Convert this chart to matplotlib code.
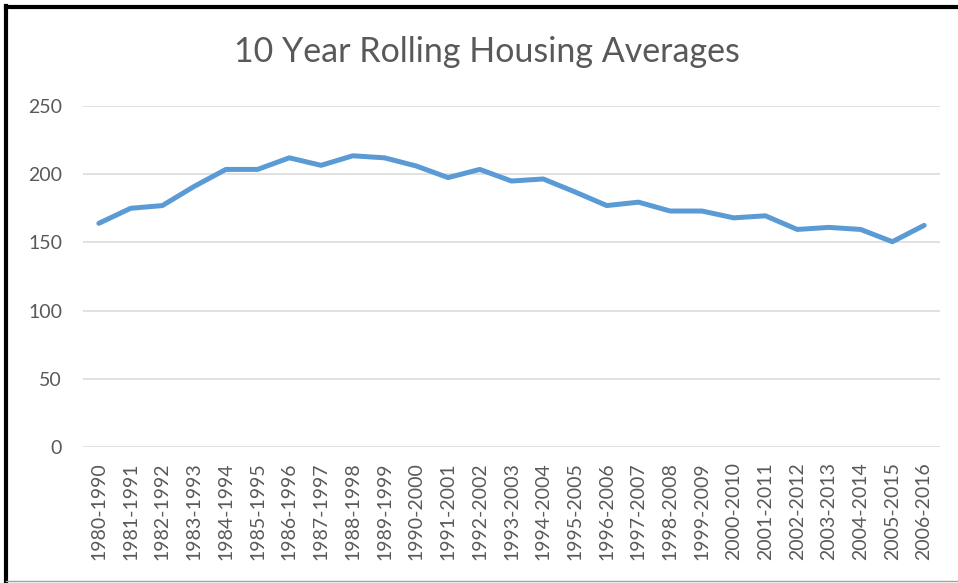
import matplotlib
matplotlib.use('Agg')
import matplotlib.pyplot as plt
from matplotlib.lines import Line2D

plt.rcParams['font.family'] = ['Lato', 'DejaVu Sans']

periods = ['%d-%d' % (y, y + 10) for y in range(1980, 2007)]
averages = [164, 175, 177, 191, 203.5, 203.5, 212, 206.5, 213.5, 212, 206, 197.5,
            203.5, 195, 196.5, 187, 177, 179.5, 173, 173, 168, 169.5, 159.5, 161,
            159.5, 150.5, 162.5]

fig = plt.figure(figsize=(9.58, 5.83), dpi=100)
fig.patch.set_facecolor('white')
ax = fig.add_axes([83 / 958, 1 - 447 / 583, (940 - 83) / 958, (447 - 106) / 583])

x = range(len(periods))
ax.plot(x, averages, color='#5B9BD5', linewidth=3.6, solid_capstyle='round',
        solid_joinstyle='round', zorder=3)

ax.set_xlim(-0.5, len(periods) - 0.5)
ax.set_ylim(0, 250)
ax.set_yticks([0, 50, 100, 150, 200, 250])
ax.set_xticks(list(x))
ax.set_xticklabels(periods, rotation=90)
ax.tick_params(axis='both', length=0, labelsize=14, labelcolor='#595959')
ax.tick_params(axis='y', pad=15)
ax.tick_params(axis='x', pad=11)
ax.grid(axis='y', color='#D9D9D9', linewidth=1.1)
ax.set_axisbelow(True)
for s in ax.spines.values():
    s.set_visible(False)

fig.text(487 / 958, 1 - 52 / 583, '10 Year Rolling Housing Averages', ha='center',
         va='center', fontsize=24.5, color='#595959')

# outer frame of the screenshot
fig.add_artist(Line2D([6 / 958, 6 / 958], [0, 1 - 6 / 583], transform=fig.transFigure,
                      color='black', linewidth=3))
fig.add_artist(Line2D([6 / 958, 1], [1 - 7 / 583, 1 - 7 / 583], transform=fig.transFigure,
                      color='black', linewidth=3))
fig.add_artist(Line2D([6 / 958, 1], [2.5 / 583, 2.5 / 583], transform=fig.transFigure,
                      color='#A0A0A0', linewidth=1))

fig.savefig('out.png', dpi=100)
